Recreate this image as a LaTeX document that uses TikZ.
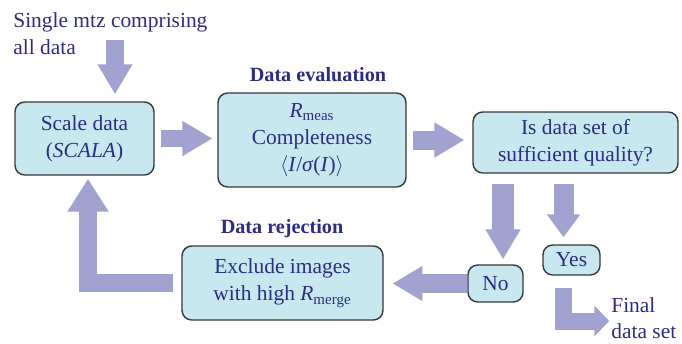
\documentclass[tikz,border=0pt]{standalone}
\usepackage{fontspec}
\setmainfont{Liberation Serif}
\usetikzlibrary{arrows.meta,calc}
\definecolor{boxfill}{RGB}{198,232,238}
\definecolor{boxline}{RGB}{55,55,60}
\definecolor{navy}{RGB}{44,44,135}
\definecolor{lavender}{RGB}{162,162,208}
\tikzset{
  box/.style={draw=boxline, line width=0.8pt, fill=boxfill, rounded corners=5.5pt,
    align=center, text=navy, inner sep=0pt},
  title/.style={text=navy, font=\bfseries\fontsize{11.5}{14}\selectfont},
  bigarrow/.style={draw=lavender, line width=0.38cm,
    -{Triangle[length=0.6cm,width=0.66cm]}},
}
\begin{document}
\begin{tikzpicture}[x=0.02cm, y=-0.02cm, font=\fontsize{12.2}{15.5}\selectfont]
    \useasboundingbox (0,0) rectangle (682,343);

    % Input and scaling
    \node[anchor=west, inner sep=0pt, align=left, text=navy] (src) at (13,34)
        {Single mtz comprising\\all data};
    \node[box, minimum width=2.78cm, minimum height=1.46cm] (scale) at (84.5,138.5)
        {Scale data\\(\textit{SCALA})};

    % Data evaluation
    \node[title] (evaltitle) at (318,75) {Data evaluation};
    \node[box, minimum width=3.76cm, minimum height=1.88cm] (eval) at (312,140)
        {\textit{R}\textsubscript{meas}\\Completeness\\$\langle$\textit{I}/\textit{σ}(\textit{I})$\rangle$};
    \node[box, minimum width=4.1cm, minimum height=1.22cm] (qual) at (575.5,142.5)
        {Is data set of\\sufficient quality?};
    \node[box, minimum width=1.14cm, minimum height=0.6cm] (yes) at (571.5,260) {Yes};
    \node[box, minimum width=1.1cm, minimum height=0.74cm] (no) at (495.5,283.5) {No};
    \node[anchor=west, inner sep=0pt, align=left, text=navy,
        font=\fontsize{12.2}{15}\selectfont] (final) at (611,318)
        {Final\\data set};

    % Data rejection
    \node[title] (rejtitle) at (282,229) {Data rejection};
    \node[box, minimum width=4.02cm, minimum height=1.48cm] (excl) at (282.5,283)
        {Exclude images\\with high \textit{R}\textsubscript{merge}};

    % Arrows
    \coordinate (in) at (115,40);
    \draw[bigarrow, line width=0.36cm, shorten >=4pt] (in) -- (in |- scale.north);
    \draw[bigarrow, line width=0.34cm, shorten <=3.4pt, shorten >=2.8pt]
        (scale.east) -- (scale.east -| eval.west);
    \draw[bigarrow, shorten <=3.4pt, shorten >=4.5pt]
        (eval.east) -- (eval.east -| qual.west);
    \coordinate (noin) at ($(no.north)+(7.5,0)$);
    \draw[bigarrow, line width=0.44cm, shorten <=5.7pt, shorten >=2.8pt]
        (noin |- qual.south) -- (noin);
    \coordinate (yesin) at ($(yes.north)+(-8,0)$);
    \draw[bigarrow, line width=0.4cm, -{Triangle[length=0.46cm,width=0.64cm]},
        shorten <=5.7pt, shorten >=4pt] (yesin |- qual.south) -- (yesin);
    \draw[bigarrow, line width=0.34cm, -{Triangle[length=0.3cm,width=0.6cm]},
        shorten >=1pt] ($(yes.south)+(-8,12)$) |- ($(final.west)+(0,3)$);
    \draw[bigarrow, shorten >=5pt] (no.west) -- (no.west -| excl.east);
    \draw[bigarrow, line width=0.36cm, -{Triangle[length=0.66cm,width=0.78cm]},
        shorten <=5pt, shorten >=1.7pt] (excl.west) -| ($(scale.south)+(3.5,0)$);
\end{tikzpicture}
\end{document}
